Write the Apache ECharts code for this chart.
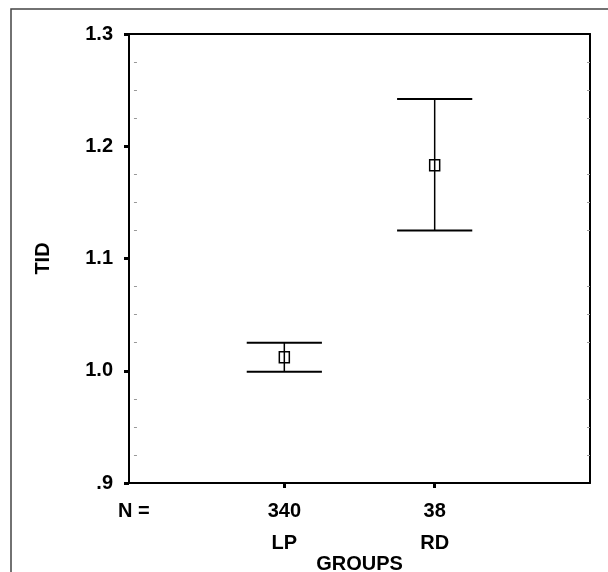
<!DOCTYPE html>
<html><head><meta charset="utf-8">
<script src="https://cdn.jsdelivr.net/npm/echarts@6/dist/echarts.min.js"></script>
<style>html,body{margin:0;padding:0;background:#fff}#c{width:608px;height:572px}</style>
</head><body><div id="c"></div>
<script>
const groups = ['LP', 'RD'];
const counts = [340, 38];
const means = [1.012, 1.183];
const lowerBounds = [0.999, 1.125];
const upperBounds = [1.025, 1.242];
const yTickValues = [0.9, 1.0, 1.1, 1.2, 1.3];
const yTickLabels = ['.9', '1.0', '1.1', '1.2', '1.3'];
const nLabel = 'N =';
const xTitle = 'GROUPS';
const yTitle = 'TID';

const positions = groups.map((g, i) => i + 1);
const barData = groups.map((g, i) => [positions[i], means[i], lowerBounds[i], upperBounds[i]]);

const FONT = '"Liberation Sans", Arial, sans-serif';
const FS = 20;
const CAP = 0.25;
const chart = echarts.init(document.getElementById('c'));

function yLabel(v) {
  for (let i = 0; i < yTickValues.length; i++) {
    if (Math.abs(yTickValues[i] - v) < 1e-6) return yTickLabels[i];
  }
  return '';
}
function xLabel(v) {
  if (Math.abs(v) < 1e-6) return nLabel;
  const i = positions.indexOf(Math.round(v));
  return i < 0 ? '' : counts[i] + '\n' + groups[i];
}

const yCommon = { type: 'value', min: 0.9, max: 1.3, interval: 0.1, splitLine: { show: false } };
const xCommon = { type: 'value', min: -0.033, max: 3.033, splitLine: { show: false } };

chart.setOption({
  animation: false,
  backgroundColor: '#fff',
  graphic: [{
    type: 'rect', z: -1,
    shape: { x: 11, y: 9, width: 700, height: 700 },
    style: { fill: 'none', stroke: '#444', lineWidth: 1.5 }
  }],
  grid: { left: 129, right: 18, top: 34, bottom: 89, outerBoundsMode: 'none', containLabel: false },
  xAxis: [
    Object.assign({}, xCommon, {
      position: 'bottom',
      axisLine: { show: true, onZero: false, lineStyle: { color: '#000', width: 2 } },
      axisTick: { show: true, customValues: positions, length: 5, lineStyle: { color: '#000', width: 3 } },
      axisLabel: {
        customValues: [0].concat(positions), formatter: xLabel, margin: 12,
        color: '#000', fontFamily: FONT, fontWeight: 'bold', fontSize: FS, lineHeight: 32
      },
      name: xTitle, nameLocation: 'middle', nameGap: 71, nameMoveOverlap: false,
      nameTextStyle: { color: '#000', fontFamily: FONT, fontWeight: 'bold', fontSize: FS }
    }),
    Object.assign({}, xCommon, {
      position: 'top',
      axisLine: { show: true, onZero: false, lineStyle: { color: '#000', width: 2 } },
      axisTick: { show: false }, axisLabel: { show: false }
    })
  ],
  yAxis: [
    Object.assign({}, yCommon, {
      position: 'left',
      axisLine: { show: true, onZero: false, lineStyle: { color: '#000', width: 2 } },
      axisTick: { show: true, length: 5, lineStyle: { color: '#000', width: 3 } },
      axisLabel: {
        formatter: yLabel, margin: 16,
        color: '#000', fontFamily: FONT, fontWeight: 'bold', fontSize: FS
      },
      name: yTitle, nameLocation: 'middle', nameGap: 76, nameMoveOverlap: false,
      nameTextStyle: { color: '#000', fontFamily: FONT, fontWeight: 'bold', fontSize: FS }
    }),
    Object.assign({}, yCommon, {
      position: 'left',
      axisLine: { show: false },
      axisTick: { show: false, inside: true },
      minorTick: { show: true, splitNumber: 4, length: 3, lineStyle: { color: '#999', width: 1 } },
      axisLabel: { show: false }
    }),
    Object.assign({}, yCommon, {
      position: 'right',
      axisLine: { show: true, onZero: false, lineStyle: { color: '#000', width: 2 } },
      axisTick: { show: false, inside: true },
      minorTick: { show: true, splitNumber: 4, length: 3, lineStyle: { color: '#999', width: 1 } },
      axisLabel: { show: false }
    })
  ],
  series: [{
    type: 'custom',
    xAxisIndex: 0, yAxisIndex: 0,
    data: barData,
    encode: { x: 0, y: [1, 2, 3] },
    renderItem: function (params, api) {
      const x = api.value(0);
      const pM = api.coord([x, api.value(1)]);
      const pLo = api.coord([x, api.value(2)]);
      const pHi = api.coord([x, api.value(3)]);
      const half = api.size([CAP, 0])[0];
      return {
        type: 'group',
        children: [
          { type: 'line', shape: { x1: pLo[0], y1: pLo[1], x2: pHi[0], y2: pHi[1] }, style: { stroke: '#000', lineWidth: 1.5 } },
          { type: 'line', shape: { x1: pHi[0] - half, y1: pHi[1], x2: pHi[0] + half, y2: pHi[1] }, style: { stroke: '#000', lineWidth: 2 } },
          { type: 'line', shape: { x1: pLo[0] - half, y1: pLo[1], x2: pLo[0] + half, y2: pLo[1] }, style: { stroke: '#000', lineWidth: 2 } },
          { type: 'rect', shape: { x: pM[0] - 5, y: pM[1] - 5.5, width: 10, height: 11 }, style: { fill: 'none', stroke: '#000', lineWidth: 1.5 } }
        ]
      };
    }
  }]
});
</script>
</body></html>
